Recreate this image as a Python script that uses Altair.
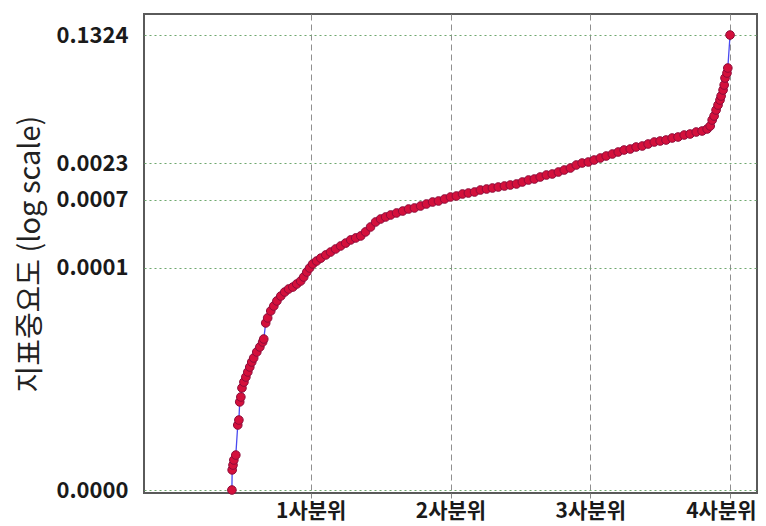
import altair as alt
import pandas as pd

# percentile rank (x) and importance value (y, log scale)
pct = [10.9, 10.95, 11.1, 11.25, 11.6, 11.95, 12.15, 12.3, 12.5, 12.7,
       13.05, 13.4, 13.75, 14.1, 14.45, 14.8, 15.35, 15.9, 16.4, 16.6,
       16.95, 17.3, 17.85, 18.4, 18.95, 19.65, 20.35, 21.05, 21.8, 22.5,
       23.2, 23.75, 24.3, 24.8, 25.35, 26.05, 26.8, 27.7, 28.55, 29.45,
       30.35, 31.25, 32.15, 33.05, 33.95, 34.8, 35.7, 36.6, 37.5, 38.4,
       39.3, 40.35, 41.45, 42.5, 43.55, 44.65, 45.7, 46.8, 47.85, 48.95,
       50.0, 51.05, 52.15, 53.2, 54.3, 55.35, 56.45, 57.5, 58.55, 59.65,
       60.7, 61.8, 62.85, 63.95, 65.0, 66.05, 67.15, 68.2, 69.3, 70.35,
       71.45, 72.5, 73.55, 74.65, 75.7, 76.8, 77.85, 78.95, 80.0, 81.05,
       82.15, 83.2, 84.3, 85.35, 86.45, 87.5, 88.55, 89.65, 90.7, 91.8,
       92.85, 93.95, 95.0, 95.9, 96.45, 96.8, 97.15, 97.5, 97.85, 98.2,
       98.4, 98.75, 98.95, 99.1, 99.45, 99.6, 100.0]
importance = [7.3e-8, 1.38e-7, 1.61e-7, 1.89e-7, 2.21e-7, 5.72e-7, 6.70e-7, 1.19e-6, 1.39e-6, 1.85e-6,
              2.23e-6, 2.62e-6, 3.07e-6, 3.59e-6, 4.21e-6, 4.78e-6, 5.78e-6, 6.77e-6, 7.93e-6, 8.72e-6,
              1.45e-5, 1.70e-5, 2.12e-5, 2.48e-5, 2.91e-5, 3.40e-5, 3.86e-5, 4.25e-5, 4.52e-5, 4.98e-5,
              5.47e-5, 6.21e-5, 7.28e-5, 8.26e-5, 9.38e-5, 1.03e-4, 1.13e-4, 1.25e-4, 1.37e-4, 1.51e-4,
              1.66e-4, 1.82e-4, 2.01e-4, 2.14e-4, 2.28e-4, 2.59e-4, 3.03e-4, 3.55e-4, 3.90e-4, 4.16e-4,
              4.43e-4, 4.72e-4, 5.02e-4, 5.35e-4, 5.53e-4, 5.89e-4, 6.27e-4, 6.68e-4, 6.90e-4, 7.35e-4,
              7.83e-4, 8.08e-4, 8.61e-4, 8.88e-4, 9.17e-4, 9.77e-4, 1.008e-3, 1.041e-3, 1.074e-3, 1.109e-3,
              1.145e-3, 1.182e-3, 1.259e-3, 1.341e-3, 1.384e-3, 1.475e-3, 1.571e-3, 1.622e-3, 1.728e-3, 1.841e-3,
              1.961e-3, 2.157e-3, 2.297e-3, 2.372e-3, 2.527e-3, 2.692e-3, 2.868e-3, 3.055e-3, 3.255e-3, 3.468e-3,
              3.579e-3, 3.814e-3, 3.937e-3, 4.194e-3, 4.468e-3, 4.612e-3, 4.761e-3, 5.072e-3, 5.235e-3, 5.577e-3,
              5.757e-3, 6.133e-3, 6.330e-3, 6.744e-3, 7.418e-3, 8.968e-3, 1.018e-2, 1.231e-2, 1.442e-2, 1.690e-2,
              1.918e-2, 2.319e-2, 2.718e-2, 3.392e-2, 3.975e-2, 4.657e-2, 0.1324]

quartile_ticks = [25, 50, 75, 100]
quartile_labels = ["1사분위", "2사분위", "3사분위", "4사분위"]
y_ticks = [7.3e-8, 8.31e-5, 7.12e-4, 2.297e-3, 0.1324]

df = pd.DataFrame({"pct": pct, "importance": importance})

FONT = "Noto Sans CJK KR"

label_expr = " : ".join(
    f"datum.value == {v} ? '{l}'" for v, l in zip(quartile_ticks, quartile_labels)
) + " : ''"

x_enc = alt.X(
    "pct:Q",
    scale=alt.Scale(domain=[-4.82, 104.82], nice=False, zero=False),
    axis=alt.Axis(
        values=quartile_ticks, labelExpr=label_expr, title=None,
        grid=True, gridColor="#8f8f8f", gridDash=[6, 4], gridWidth=1,
        domain=False, ticks=True, tickSize=5, tickColor="#888",
        labelFont=FONT, labelFontSize=21, labelFontWeight="bold",
        labelColor="#1a1a1a", labelPadding=2,
        labelFlush=30, labelFlushOffset=26,
    ),
)
y_enc = alt.Y(
    "importance:Q",
    scale=alt.Scale(type="log", domain=[6.64e-8, 0.2576], nice=False),
    axis=alt.Axis(
        values=y_ticks, format=".4f", title="지표중요도 (log scale)",
        grid=True, gridColor="#6fa86f", gridDash=[2, 3], gridWidth=1.2,
        domain=False, ticks=False, labelPadding=16,
        labelFont=FONT, labelFontSize=22, labelFontWeight="bold",
        labelColor="#1a1a1a",
        titleFont=FONT, titleFontSize=29, titleFontWeight="normal",
        titleColor="#222", titlePadding=10,
    ),
)

base = alt.Chart(df)
line = base.mark_line(color="#4a4af0", strokeWidth=1.3).encode(x=x_enc, y=y_enc)
pts = base.mark_circle(size=75, fill="#d4103c", stroke="#8e0c3a",
                       strokeWidth=1, opacity=1).encode(x="pct:Q", y="importance:Q")

chart = (
    alt.layer(line, pts)
    .properties(
        width=613, height=479,
        autosize=alt.AutoSizeParams(type="none"),
        padding={"left": 136, "top": 6, "right": 1, "bottom": 34},
    )
    .configure_view(stroke="#5a5a5a", strokeWidth=2)
)

chart.save("out.html", embed_options={"renderer": "svg", "actions": False})
